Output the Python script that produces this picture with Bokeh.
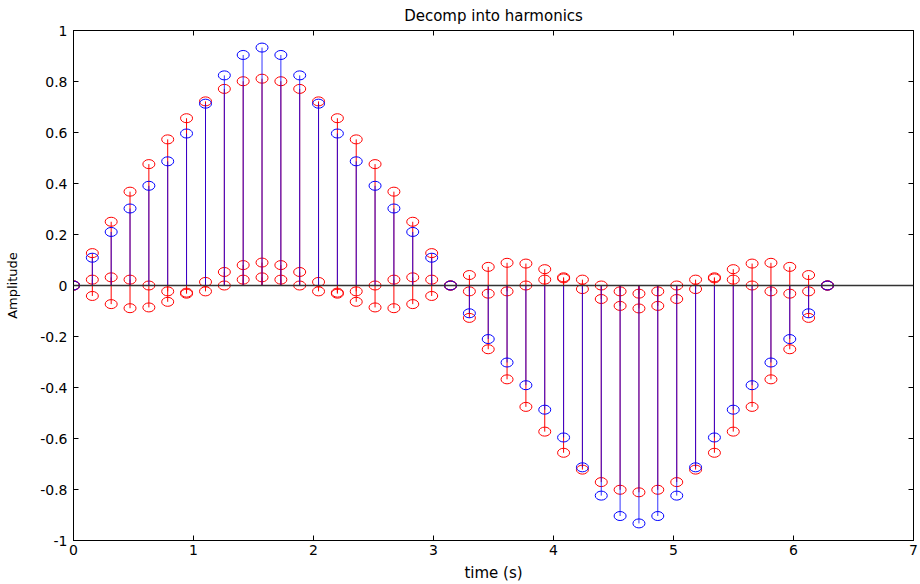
from bokeh.plotting import figure
from bokeh.models import (Range1d, LinearAxis, FixedTicker, Span, ColumnDataSource,
                          CustomLabelingPolicy)
from bokeh.embed import file_html
from bokeh.resources import INLINE

# ---- data ----
t = [0.000, 0.157, 0.314, 0.471, 0.628, 0.785, 0.942, 1.100, 1.257, 1.414,
     1.571, 1.728, 1.885, 2.042, 2.199, 2.356, 2.513, 2.670, 2.827, 2.985,
     3.142, 3.299, 3.456, 3.613, 3.770, 3.927, 4.084, 4.241, 4.398, 4.555,
     4.712, 4.869, 5.027, 5.184, 5.341, 5.498, 5.655, 5.812, 5.969, 6.126,
     6.283]

total = [0.000, 0.109, 0.210, 0.302, 0.391, 0.487, 0.596, 0.713, 0.824, 0.904,
         0.933, 0.904, 0.824, 0.713, 0.596, 0.487, 0.391, 0.302, 0.210, 0.109,
         0.000, -0.109, -0.210, -0.302, -0.391, -0.487, -0.596, -0.713, -0.824, -0.904,
         -0.933, -0.904, -0.824, -0.713, -0.596, -0.487, -0.391, -0.302, -0.210, -0.109,
         0.000]

harm1 = [0.000, 0.127, 0.250, 0.368, 0.476, 0.573, 0.656, 0.722, 0.771, 0.801,
         0.811, 0.801, 0.771, 0.722, 0.656, 0.573, 0.476, 0.368, 0.250, 0.127,
         0.000, -0.127, -0.250, -0.368, -0.476, -0.573, -0.656, -0.722, -0.771, -0.801,
         -0.811, -0.801, -0.771, -0.722, -0.656, -0.573, -0.476, -0.368, -0.250, -0.127,
         0.000]

harm3 = [0.000, -0.041, -0.073, -0.089, -0.086, -0.064, -0.028, 0.014, 0.053, 0.080,
         0.090, 0.080, 0.053, 0.014, -0.028, -0.064, -0.086, -0.089, -0.073, -0.041,
         0.000, 0.041, 0.073, 0.089, 0.086, 0.064, 0.028, -0.014, -0.053, -0.080,
         -0.090, -0.080, -0.053, -0.014, 0.028, 0.064, 0.086, 0.089, 0.073, 0.041,
         0.000]

harm5 = [0.000, 0.023, 0.032, 0.023, 0.000, -0.023, -0.032, -0.023, 0.000, 0.023,
         0.032, 0.023, 0.000, -0.023, -0.032, -0.023, 0.000, 0.023, 0.032, 0.023,
         0.000, -0.023, -0.032, -0.023, 0.000, 0.023, 0.032, 0.023, 0.000, -0.023,
         -0.032, -0.023, 0.000, 0.023, 0.032, 0.023, 0.000, -0.023, -0.032, -0.023,
         0.000]

xticks = [0, 1, 2, 3, 4, 5, 6, 7]
yticks = [-1, -0.8, -0.6, -0.4, -0.2, 0, 0.2, 0.4, 0.6, 0.8, 1]
ytick_labels = ["-1", "-0.8", "-0.6", "-0.4", "-0.2", "0", "0.2", "0.4", "0.6", "0.8", "1"]
title_text = "Decomp into harmonics"

FONT = "DejaVu Sans"

p = figure(width=920, height=584, x_range=Range1d(0, 7), y_range=Range1d(-1, 1),
           output_backend="svg", toolbar_location=None, title=title_text,
           min_border_left=73, min_border_right=7, min_border_top=30, min_border_bottom=43)
p.grid.visible = False
p.outline_line_color = "black"
p.outline_line_alpha = 1.0
p.background_fill_color = "white"
p.border_fill_color = "white"

p.title.text_font = FONT
p.title.text_font_size = "15px"
p.title.text_font_style = "normal"
p.title.align = "center"
p.title.text_color = "black"
p.title.vertical_align = "top"
p.title.standoff = 0

xa = p.below[0]
ya = p.left[0]
xa.ticker = FixedTicker(ticks=xticks)
ya.ticker = FixedTicker(ticks=yticks)
ya.major_label_overrides = {v: s for v, s in zip(yticks, ytick_labels)}
xa.axis_label = "time (s)"
ya.axis_label = "Amplitude"

hide_all = CustomLabelingPolicy(code="""
const n = indices.size;
for (let i = 0; i < n; i++) { indices.unset(i); }
return indices;
""")
top_ax = LinearAxis(ticker=FixedTicker(ticks=xticks), major_label_policy=hide_all)
right_ax = LinearAxis(ticker=FixedTicker(ticks=yticks), major_label_policy=hide_all)
p.add_layout(top_ax, "above")
p.add_layout(right_ax, "right")

for ax in (xa, ya, top_ax, right_ax):
    ax.axis_line_color = "black"
    ax.major_tick_line_color = "black"
    ax.major_tick_in = 5
    ax.major_tick_out = 0
    ax.minor_tick_in = 0
    ax.minor_tick_out = 0
    ax.major_label_text_font = FONT
    ax.major_label_text_font_size = "14px"
    ax.major_label_text_color = "black"
    ax.axis_label_text_font = FONT
    ax.axis_label_text_font_style = "normal"
    ax.axis_label_text_color = "black"

for ax in (top_ax, right_ax):
    ax.major_label_text_font_size = "1px"
    ax.major_label_standoff = 0

xa.major_label_standoff = 4
ya.major_label_standoff = 6
xa.axis_label_text_font_size = "15px"
ya.axis_label_text_font_size = "13px"
xa.axis_label_standoff = 6
ya.axis_label_standoff = 17

zeros = [0.0] * len(t)

# red harmonic stems
for h in (harm1, harm3, harm5):
    src = ColumnDataSource(dict(t=t, y=h, z=zeros))
    p.segment(x0="t", y0="z", x1="t", y1="y", source=src, line_color="red", line_width=1)
    p.ellipse(x="t", y="y", width=12, height=9, width_units="screen", height_units="screen",
              source=src, fill_color=None, line_color="red", line_width=1)

# blue sum stems
bsrc = ColumnDataSource(dict(t=t, y=total, z=zeros))
p.segment(x0="t", y0="z", x1="t", y1="y", source=bsrc, line_color="blue", line_width=1, line_alpha=0.8)
p.ellipse(x="t", y="y", width=12, height=9, width_units="screen", height_units="screen",
          source=bsrc, fill_color=None, line_color="blue", line_width=1)

p.add_layout(Span(location=0, dimension="width", line_color="#333333", line_width=1.5))

open("out.html", "w").write(file_html(p, INLINE))
